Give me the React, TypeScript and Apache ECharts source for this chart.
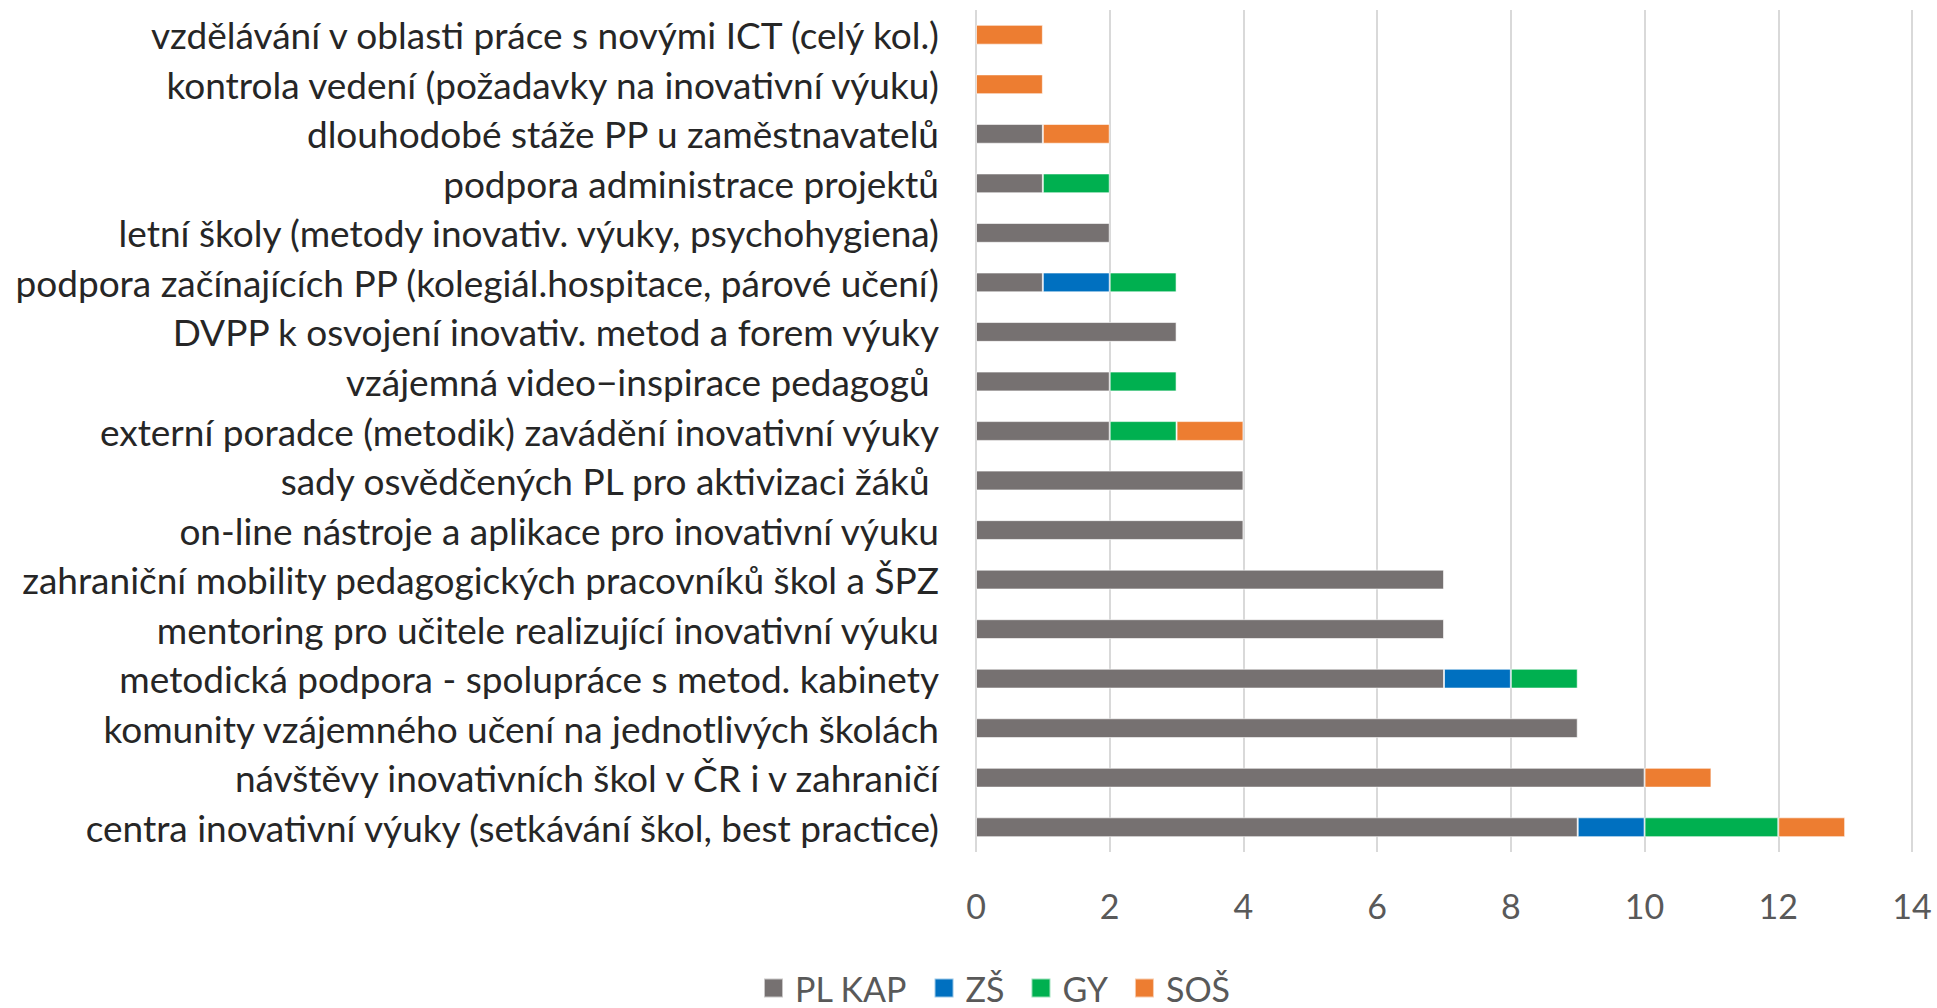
import React, { useEffect, useRef } from "react";
import * as echarts from "echarts";

// bottom-to-top order (ECharts category axis starts at bottom)
const categories = [
  "centra inovativní výuky (setkávání škol, best practice)",
  "návštěvy inovativních škol v ČR i v zahraničí",
  "komunity vzájemného učení na jednotlivých školách",
  "metodická podpora - spolupráce s metod. kabinety",
  "mentoring pro učitele realizující inovativní výuku",
  "zahraniční mobility pedagogických pracovníků škol a ŠPZ",
  "on-line nástroje a aplikace pro inovativní výuku",
  "sady osvědčených PL pro aktivizaci žáků ",
  "externí poradce (metodik) zavádění inovativní výuky",
  "vzájemná video−inspirace pedagogů ",
  "DVPP k osvojení inovativ. metod a forem výuky",
  "podpora začínajících PP (kolegiál.hospitace, párové učení)",
  "letní školy (metody inovativ. výuky, psychohygiena)",
  "podpora administrace projektů",
  "dlouhodobé stáže PP u zaměstnavatelů",
  "kontrola vedení (požadavky na inovativní výuku)",
  "vzdělávání v oblasti práce s novými ICT (celý kol.)",
];

const plKap = [9, 10, 9, 7, 7, 7, 4, 4, 2, 2, 3, 1, 2, 1, 1, 0, 0];
const zs = [1, 0, 0, 1, 0, 0, 0, 0, 0, 0, 0, 1, 0, 0, 0, 0, 0];
const gy = [2, 0, 0, 1, 0, 0, 0, 0, 1, 1, 0, 1, 0, 1, 0, 0, 0];
const sos = [1, 1, 0, 0, 0, 0, 0, 0, 1, 0, 0, 0, 0, 0, 1, 1, 1];

const seriesNames = ["PL KAP", "ZŠ", "GY", "SOŠ"];
const seriesColors = ["#767171", "#0070C0", "#00B050", "#ED7D31"];
const xTicks = { min: 0, max: 14, interval: 2 };

const FONT = "Lato, 'Open Sans', sans-serif";

export default function App() {
  const ref = useRef<HTMLDivElement>(null);
  useEffect(() => {
    if (!ref.current) return;
    const chart = echarts.init(ref.current, undefined, { renderer: "svg" });
    const values = [plKap, zs, gy, sos];
    chart.setOption({
      animation: false,
      textStyle: { fontFamily: FONT },
      grid: { left: 976, right: 25, top: 10, bottom: 156, containLabel: false },
      legend: {
        top: 966,
        left: 758,
        itemWidth: 19,
        itemHeight: 19,
        itemGap: 26,
        icon: "rect",
        textStyle: { fontSize: 34, color: "#595959", fontFamily: FONT, padding: [0, 0, 0, 7] },
        data: seriesNames,
      },
      xAxis: {
        type: "value",
        min: xTicks.min,
        max: xTicks.max,
        interval: xTicks.interval,
        axisLine: { show: false },
        axisTick: { show: false },
        splitLine: { show: true, lineStyle: { color: "#D9D9D9", width: 2 } },
        axisLabel: { fontSize: 34, color: "#595959", margin: 36, fontFamily: FONT },
      },
      yAxis: {
        type: "category",
        data: categories,
        axisLine: { show: false },
        axisTick: { show: false },
        axisLabel: { fontSize: 37, color: "#262626", margin: 37, fontFamily: FONT },
      },
      series: seriesNames.map((name, i) => ({
        name,
        type: "bar",
        stack: "total",
        barWidth: "40%",
        itemStyle: { color: seriesColors[i], borderColor: "rgba(255,255,255,0.6)", borderWidth: 1 },
        data: values[i].map((v) => (v === 0 ? null : v)),
      })),
    });
    return () => chart.dispose();
  }, []);
  return (
    <div
      ref={ref}
      style={{ position: "fixed", left: 0, top: 0, width: 1937, height: 1008, background: "#fff" }}
    />
  );
}
